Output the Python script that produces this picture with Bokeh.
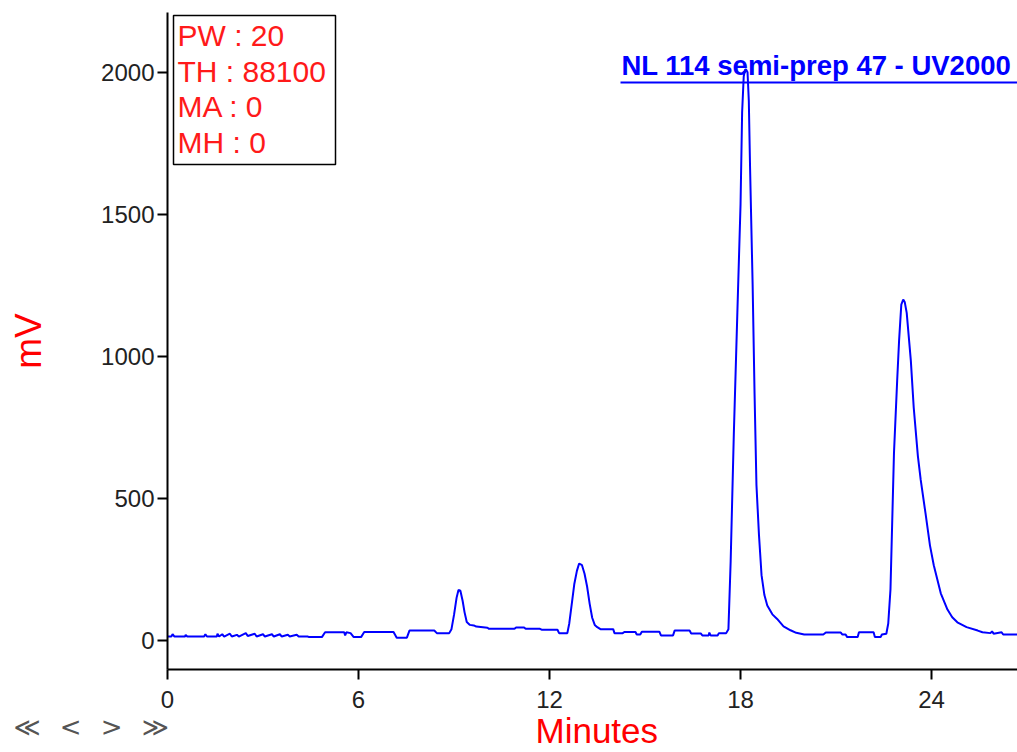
import math
from bokeh.plotting import figure
from bokeh.models import Range1d, Label, BoxAnnotation, FixedTicker, Title
from bokeh.embed import file_html
from bokeh.resources import INLINE

# ---------------- data ----------------
minutes = [
    0.00, 0.12, 0.16, 0.22, 0.55, 0.57, 0.62, 1.15, 1.19, 1.24, 1.55, 1.57, 1.62, 1.72, 1.78,
    1.96, 2.02, 2.18, 2.24, 2.46, 2.52, 2.74, 2.80, 3.00, 3.06, 3.28, 3.34, 3.53, 3.59, 3.78,
    3.84, 4.06, 4.12, 4.40, 4.45, 4.85, 4.95, 5.55, 5.58, 5.62, 5.75, 5.85, 6.08, 6.18, 7.10,
    7.20, 7.52, 7.60, 8.38, 8.46, 8.85, 8.92, 9.00, 9.08, 9.14, 9.20, 9.27, 9.33, 9.40, 9.50,
    9.62, 9.70, 10.05, 10.10, 10.90, 10.95, 11.20, 11.25, 11.70, 11.75, 12.25, 12.30, 12.56,
    12.62, 12.70, 12.78, 12.86, 12.93, 13.02, 13.10, 13.18, 13.26, 13.34, 13.42, 13.50, 13.60,
    14.00, 14.04, 14.30, 14.35, 14.70, 14.74, 14.85, 14.90, 15.45, 15.50, 15.88, 15.93, 16.40,
    16.45, 16.75, 16.80, 17.00, 17.02, 17.06, 17.28, 17.32, 17.55, 17.62, 17.69, 17.79, 17.90,
    18.00, 18.05, 18.10, 18.14, 18.17, 18.22, 18.26, 18.30, 18.38, 18.44, 18.50, 18.58, 18.66,
    18.75, 18.84, 19.00, 19.15, 19.35, 19.57, 19.75, 20.00, 20.60, 20.68, 21.15, 21.20, 21.30,
    21.35, 21.68, 21.72, 22.18, 22.22, 22.40, 22.44, 22.58, 22.64, 22.71, 22.82, 22.92, 22.98,
    23.05, 23.11, 23.16, 23.22, 23.35, 23.44, 23.57, 23.66, 23.81, 23.95, 24.07, 24.29, 24.50,
    24.65, 24.81, 25.10, 25.45, 25.60, 25.85, 25.90, 25.95, 26.20, 26.25, 26.70,
]
millivolts = [
    14, 14, 22, 14, 14, 20, 14, 14, 22, 14, 14, 24, 14, 22, 14,
    24, 14, 20, 14, 26, 16, 24, 14, 22, 14, 22, 14, 22, 14, 20,
    14, 20, 14, 14, 12, 12, 29, 29, 18, 29, 26, 12, 12, 30, 30,
    10, 10, 35, 35, 26, 26, 40, 90, 150, 178, 175, 140, 100, 65, 55,
    53, 49, 45, 41, 41, 46, 46, 41, 41, 38, 38, 26, 26,
    60, 130, 200, 245, 271, 265, 235, 190, 130, 80, 55, 47, 40,
    40, 26, 26, 30, 30, 21, 21, 31, 31, 18, 18, 35, 35,
    25, 25, 18, 18, 28, 18, 18, 26, 26, 40, 279, 730, 1153,
    1534, 1859, 1985, 2008, 2010, 2000, 1900, 1661, 1252, 871, 547, 370, 230,
    160, 123, 92, 76, 50, 36, 27, 21, 21, 28, 28, 21, 21,
    12, 12, 29, 29, 12, 12, 21, 24, 60, 180, 660, 914, 1055,
    1182, 1200, 1190, 1153, 984, 820, 650, 565, 448, 335, 265, 166, 109,
    82, 64, 47, 35, 29, 26, 32, 24, 29, 21, 21,
]
x_ticks = [0, 6, 12, 18, 24]
y_ticks = [0, 500, 1000, 1500, 2000]
trace_name = "NL 114 semi-prep 47 - UV2000"
param_lines = ["PW : 20", "TH : 88100", "MA : 0", "MH : 0"]
x_label = "Minutes"
y_label = "mV"
GAP = "\u00a0\u00a0\u200a"
nav_text = GAP.join(["\u226a", "<", ">", "\u226b"])

# ---------------- layout ----------------
W, H = 1017, 752
BL, BR, BT, BB = 167, 0, 12, 83
X0, X1 = 0.0, 26.7
Y0, Y1 = -102.0, 2210.0
FW, FH = W - BL - BR, H - BT - BB


def dx(px):
    """picture pixel x -> data x"""
    return X0 + (px - BL) / FW * (X1 - X0)


def dy(py):
    """picture pixel y -> data y"""
    return Y1 - (py - BT) / FH * (Y1 - Y0)


p = figure(width=W, height=H, output_backend="svg", toolbar_location=None,
           x_range=Range1d(X0, X1), y_range=Range1d(Y0, Y1),
           min_border_left=BL, min_border_right=BR, min_border_top=BT,
           min_border_bottom=BB)
p.outline_line_color = None
p.xgrid.visible = False
p.ygrid.visible = False
p.background_fill_color = "white"
p.border_fill_color = "white"

TICK_FONT = "Liberation Sans"
for ax, ticks, standoff in ((p.xaxis, x_ticks, 11), (p.yaxis, y_ticks, 3)):
    ax.ticker = FixedTicker(ticks=ticks)
    ax.axis_line_color = "black"
    ax.axis_line_width = 2
    ax.major_tick_line_color = "black"
    ax.major_tick_line_width = 2
    ax.major_tick_out = 10
    ax.major_tick_in = 0
    ax.minor_tick_out = 0
    ax.minor_tick_in = 0
    ax.minor_tick_line_color = None
    ax.major_label_text_font = TICK_FONT
    ax.major_label_text_font_size = "24px"
    ax.major_label_text_color = "#222222"
    ax.major_label_standoff = standoff

p.yaxis.axis_label = y_label
p.yaxis.axis_label_text_color = "#ff0000"
p.yaxis.axis_label_text_font = "Liberation Sans"
p.yaxis.axis_label_text_font_style = "normal"
p.yaxis.axis_label_text_font_size = "37px"
p.yaxis.axis_label_standoff = 49

# navigation arrows under the y axis (title in the bottom panel)
p.add_layout(Title(text=nav_text, align="left", offset=-154, standoff=3,
                   vertical_align="top", text_font="DejaVu Sans",
                   text_font_size="26px", text_font_style="normal",
                   text_color="#555555"), "below")
# x axis title
p.add_layout(Title(text=x_label, align="left", offset=368, standoff=-70,
                   vertical_align="top", text_font="Liberation Sans",
                   text_font_size="35px", text_font_style="normal",
                   text_color="#ff0000"), "below")

# chromatogram trace
p.line(minutes, millivolts, line_color="#0000ff", line_width=2)

# trace name with underline
p.add_layout(Label(x=dx(621), y=dy(65), text=trace_name, text_color="#0000ff",
                   text_font="Liberation Sans", text_font_style="bold",
                   text_font_size="27.5px", text_align="left",
                   text_baseline="middle"))
p.segment(x0=[dx(620)], y0=[dy(82)], x1=[X1], y1=[dy(82)],
          line_color="#0000ff", line_width=2)

# parameter box
p.add_layout(BoxAnnotation(left=dx(173), right=dx(335), top=dy(15), bottom=dy(164),
                           fill_color=None, fill_alpha=0, line_color="black",
                           line_alpha=1.0, line_width=1.5))
for i, txt in enumerate(param_lines):
    p.add_layout(Label(x=dx(177), y=dy(35 + 35.5 * i), text=txt, text_color="#ff1a1a",
                       text_font="Liberation Sans", text_font_size="30px",
                       text_align="left", text_baseline="middle"))

open("out.html", "w").write(file_html(p, INLINE))
